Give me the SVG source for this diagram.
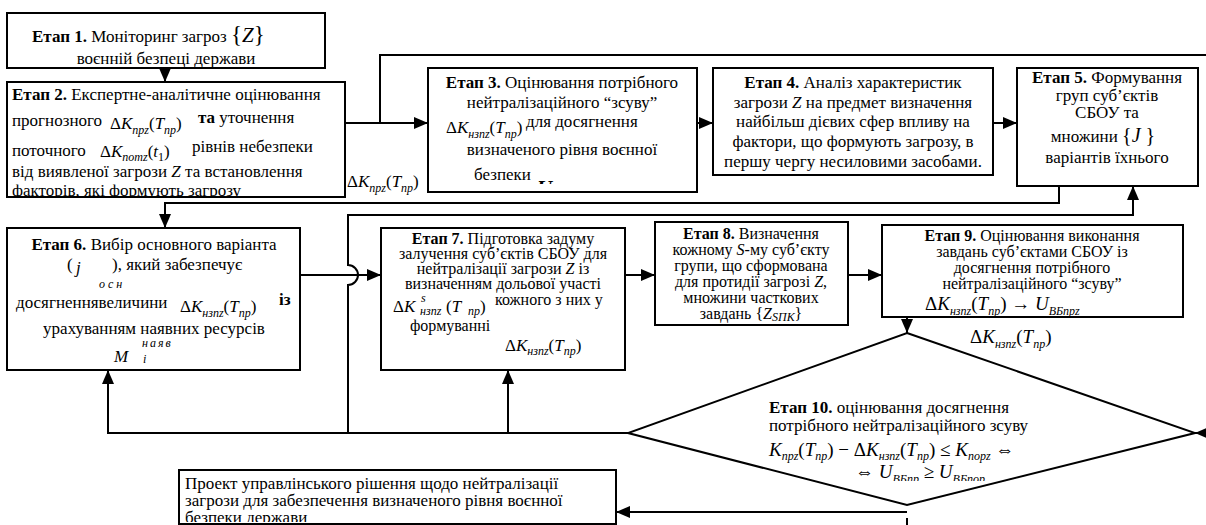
<svg xmlns="http://www.w3.org/2000/svg" width="1206" height="525" viewBox="0 0 1206 525" font-family="'Liberation Serif', 'Times New Roman', Times, 'DejaVu Serif', serif">
<style>
.box{fill:#fff;stroke:#000;stroke-width:2}
.ln{fill:none;stroke:#000;stroke-width:2}
.ar{fill:none;stroke:#000;stroke-width:2;marker-end:url(#ah)}
text{font-family:'Liberation Serif', 'Times New Roman', Times, 'DejaVu Serif', serif;font-size:17px;fill:#000}
.b{font-weight:bold}
.c{text-anchor:middle}
.i{font-style:italic}
.f{font-size:21px}
.g{font-size:19px}
.s{font-size:12px;font-style:italic}
.sm{font-size:16px}
</style>
<defs>
<marker id="ah" viewBox="0 0 14 12" refX="14" refY="6" markerWidth="14" markerHeight="12" markerUnits="userSpaceOnUse" orient="auto"><path d="M0,0 L14,6 L0,12 z" fill="#000"/></marker>
<clipPath id="c2"><rect x="8" y="83" width="336" height="113"/></clipPath>
<clipPath id="c3"><rect x="429" y="69" width="267" height="115"/></clipPath>
<clipPath id="c9"><rect x="883" y="226" width="299" height="90"/></clipPath>
<clipPath id="c10"><rect x="640" y="340" width="540" height="141"/></clipPath>
<clipPath id="cF"><rect x="180" y="471" width="435" height="51"/></clipPath>
</defs>
<rect width="1206" height="525" fill="#fff"/>

<g id="connectors">
<path class="ar" d="M165,68 V82"/>
<path class="ar" d="M345,123 H428"/>
<path class="ln" d="M380,123 V55 H1206"/>
<path class="ar" d="M697,123 H713"/>
<path class="ar" d="M993,123 H1017"/>
<path class="ar" d="M1059,186 V203 H165 V228"/>
<path class="ar" d="M628,433 H108 V370"/>
<path class="ar" d="M508,433 V370"/>
<path class="ar" d="M348,433 V285 A10,10 0 0 0 348,265 V215 H1133 V186"/>
<path class="ar" d="M300,275 H381"/>
<path class="ar" d="M625,275 H655"/>
<path class="ar" d="M848,275 H882"/>
<path class="ar" d="M907,317 V333"/>
<path class="ar" d="M1215,433 H1195"/>
<path class="ar" d="M907,512 H616"/>
<path class="ln" d="M907,518 V525"/>
<text font-size="19" x="347" y="187">Δ<tspan class="i">K</tspan><tspan class="s" font-size="10" dy="5">npz</tspan><tspan dy="-5">(</tspan><tspan class="i">T</tspan><tspan class="s" font-size="10" dy="5">np</tspan><tspan dy="-5">)</tspan></text>
<text class="g" x="970" y="343">Δ<tspan class="i">K</tspan><tspan class="s" dy="5">нзпz</tspan><tspan dy="-5">(</tspan><tspan class="i">T</tspan><tspan class="s" dy="5">np</tspan><tspan dy="-5">)</tspan></text>
</g>

<g id="stage1">
<rect class="box" x="7" y="13" width="318" height="55"/>
<text x="32" y="42"><tspan class="b">Етап 1.</tspan> Моніторинг загроз <tspan font-size="23">{</tspan><tspan class="i" font-size="21">Z</tspan><tspan font-size="23">}</tspan></text>
<text class="c" x="166" y="64">воєнній безпеці держави</text>
</g>

<g id="stage2">
<rect class="box" x="7" y="82" width="338" height="115"/>
<g clip-path="url(#c2)">
<text x="12" y="100"><tspan class="b">Етап 2.</tspan> Експертне-аналітичне оцінювання</text>
<text x="12" y="126">прогнозного</text>
<text font-size="20" x="110" y="129">Δ<tspan class="i">K</tspan><tspan class="s" font-size="11" dy="5">npz</tspan><tspan dy="-5">(</tspan><tspan class="i">T</tspan><tspan class="s" font-size="11" dy="5">np</tspan><tspan dy="-5">)</tspan></text>
<text x="198" y="123"><tspan class="b">та</tspan> уточнення</text>
<text x="12" y="156">поточного</text>
<text font-size="20" x="100" y="157">Δ<tspan class="i">K</tspan><tspan class="s" font-size="11" dy="4">nomz</tspan><tspan dy="-4">(</tspan><tspan class="i">t</tspan><tspan font-size="12" dy="4">1</tspan><tspan dy="-4">)</tspan></text>
<text x="192" y="152">рівнів небезпеки</text>
<text x="12" y="177">від виявленої загрози <tspan class="i">Z</tspan> та встановлення</text>
<text x="12" y="196">факторів, які формують загрозу</text>
</g>
</g>

<g id="stage3">
<rect class="box" x="428" y="68" width="269" height="124"/>
<text class="c" x="562" y="88"><tspan class="b">Етап 3.</tspan> Оцінювання потрібного</text>
<text class="c" x="562" y="108">нейтралізаційного “зсуву”</text>
<text font-size="20" x="446" y="133">Δ<tspan class="i">K</tspan><tspan class="s" font-size="10" dy="5">нзпz</tspan><tspan dy="-5">(</tspan><tspan class="i">T</tspan><tspan class="s" font-size="10" dy="5">np</tspan><tspan dy="-5">)</tspan></text>
<text x="526" y="127">для досягнення</text>
<text class="c" x="562" y="155">визначеного рівня воєнної</text>
<text x="474" y="180">безпеки</text>
<text class="f i b" x="537" y="195" clip-path="url(#c3)">U</text>
</g>

<g id="stage4">
<rect class="box" x="713" y="68" width="280" height="107"/>
<text class="c" x="853" y="88"><tspan class="b">Етап 4.</tspan> Аналіз характеристик</text>
<text class="c" x="853" y="108">загрози <tspan class="i">Z</tspan> на предмет визначення</text>
<text class="c" x="853" y="127">найбільш дієвих  сфер впливу на</text>
<text class="c" x="853" y="147">фактори, що формують загрозу, в</text>
<text class="c" x="853" y="167">першу чергу несиловими засобами.</text>
</g>

<g id="stage5">
<rect class="box" x="1017" y="68" width="181" height="118"/>
<text class="c" x="1107" y="83"><tspan class="b">Етап 5.</tspan> Формування</text>
<text class="c" x="1107" y="101">груп суб’єктів</text>
<text class="c" x="1107" y="118">СБОУ та</text>
<text class="c" x="1103" y="142">множини <tspan font-size="20">{</tspan><tspan class="i" font-size="20">J </tspan><tspan font-size="20">}</tspan></text>
<text class="c" x="1107" y="163">варіантів їхнього</text>
</g>

<g id="stage6">
<rect class="box" x="7" y="228" width="293" height="142"/>
<text class="c" x="154" y="250"><tspan class="b">Етап 6.</tspan> Вибір основного варіанта</text>
<text x="67" y="270">(</text>
<text class="i" x="76" y="273" font-size="23">j</text>
<text class="s" x="99" y="288" letter-spacing="3">осн</text>
<text x="112" y="270">), який забезпечує</text>
<text x="16" y="308">досягненнявеличини</text>
<text font-size="21" x="180" y="312">Δ<tspan class="i">K</tspan><tspan class="s" font-size="11" dy="5">нзпz</tspan><tspan dy="-5">(</tspan><tspan class="i">T</tspan><tspan class="s" font-size="11" dy="5">np</tspan><tspan dy="-5">)</tspan></text>
<text class="b" x="279" y="305">із</text>
<text class="c" x="154" y="334">урахуванням наявних ресурсів</text>
<text class="i" x="114" y="362" font-size="25">M</text>
<text class="s" x="142" y="347" letter-spacing="2">наяв</text>
<text class="s" x="143" y="363">i</text>
</g>

<g id="stage7">
<rect class="box" x="381" y="228" width="244" height="142"/>
<text class="c sm" x="503" y="244"><tspan class="b">Етап 7.</tspan> Підготовка задуму</text>
<text class="c sm" x="503" y="259">залучення суб’єктів СБОУ для</text>
<text class="c sm" x="503" y="274">нейтралізації загрози <tspan class="i">Z</tspan> із</text>
<text class="c sm" x="503" y="289">визначенням дольової участі</text>
<text font-size="20" x="393" y="312">Δ<tspan class="i">K</tspan></text>
<text class="s" font-size="9" x="421" y="302">s</text>
<text class="s" font-size="9" x="420" y="315">нзпz</text>
<text font-size="20" x="446" y="312">(<tspan class="i">T</tspan></text>
<text class="s" font-size="8" x="468" y="315">пр</text>
<text font-size="20" x="480" y="312">)</text>
<text class="sm" x="495" y="305">кожного з них у</text>
<text class="sm" x="410" y="331">формуванні</text>
<text font-size="20" x="505" y="351">Δ<tspan class="i">K</tspan><tspan class="s" font-size="9" dy="4">нзпz</tspan><tspan dy="-4">(</tspan><tspan class="i">T</tspan><tspan class="s" font-size="8" dy="4">пр</tspan><tspan dy="-4">)</tspan></text>
</g>

<g id="stage8">
<rect class="box" x="655" y="222" width="193" height="103"/>
<text class="c sm" x="751" y="239"><tspan class="b">Етап 8.</tspan> Визначення</text>
<text class="c sm" x="751" y="255">кожному <tspan class="i">S</tspan>-му суб’єкту</text>
<text class="c sm" x="751" y="271">групи, що сформована</text>
<text class="c sm" x="751" y="287">для протидії загрозі <tspan class="i">Z</tspan>,</text>
<text class="c sm" x="751" y="303">множини часткових</text>
<text class="c sm" x="751" y="319">завдань {<tspan class="i">Z</tspan><tspan class="i" font-size="12" dy="2">SПК</tspan><tspan dy="-2">}</tspan></text>
</g>

<g id="stage9">
<rect class="box" x="882" y="225" width="301" height="92"/>
<text class="c sm" x="1032" y="241"><tspan class="b">Етап 9.</tspan> Оцінювання виконання</text>
<text class="c sm" x="1032" y="257">завдань суб’єктами СБОУ із</text>
<text class="c sm" x="1032" y="273">досягнення потрібного</text>
<text class="c sm" x="1032" y="289">нейтралізаційного “зсуву”</text>
<text class="g" x="925" y="310" clip-path="url(#c9)">Δ<tspan class="i">K</tspan><tspan class="s" font-size="9" dy="5">нзпz</tspan><tspan dy="-5">(</tspan><tspan class="i">T</tspan><tspan class="s" font-size="9" dy="5">пр</tspan><tspan dy="-5">)  →  </tspan><tspan class="i">U</tspan><tspan class="s" font-size="9" dy="5">ВБпрz</tspan></text>
</g>

<g id="stage10">
<polygon class="box" points="907,333 1195,433 907,505 628,433"/>
<text x="769" y="413"><tspan class="b">Етап 10.</tspan> оцінювання досягнення</text>
<text x="769" y="431">потрібного нейтралізаційного зсуву</text>
<text class="g" x="769" y="456"><tspan class="i">K</tspan><tspan class="s" font-size="9" dy="4">npz</tspan><tspan dy="-4">(</tspan><tspan class="i">T</tspan><tspan class="s" font-size="9" dy="4">np</tspan><tspan dy="-4">) − Δ</tspan><tspan class="i">K</tspan><tspan class="s" font-size="9" dy="4">нзпz</tspan><tspan dy="-4">(</tspan><tspan class="i">T</tspan><tspan class="s" font-size="9" dy="4">np</tspan><tspan dy="-4">) ≤ </tspan><tspan class="i">K</tspan><tspan class="s" font-size="9" dy="4">nopz</tspan><tspan dy="-4"> ⇔</tspan></text>
<text class="g" x="855" y="478" clip-path="url(#c10)">⇔ <tspan class="i">U</tspan><tspan class="s" font-size="9" dy="5">ВБпр</tspan><tspan dy="-5"> ≥ </tspan><tspan class="i">U</tspan><tspan class="s" font-size="9" dy="5">ВБпор</tspan></text>
</g>

<g id="result">
<rect class="box" x="179" y="470" width="437" height="54"/>
<g clip-path="url(#cF)">
<text x="185" y="489">Проект управлінського рішення щодо нейтралізації</text>
<text x="185" y="506">загрози для забезпечення визначеного рівня воєнної</text>
<text x="185" y="523">безпеки держави</text>
</g>
</g>
</svg>
